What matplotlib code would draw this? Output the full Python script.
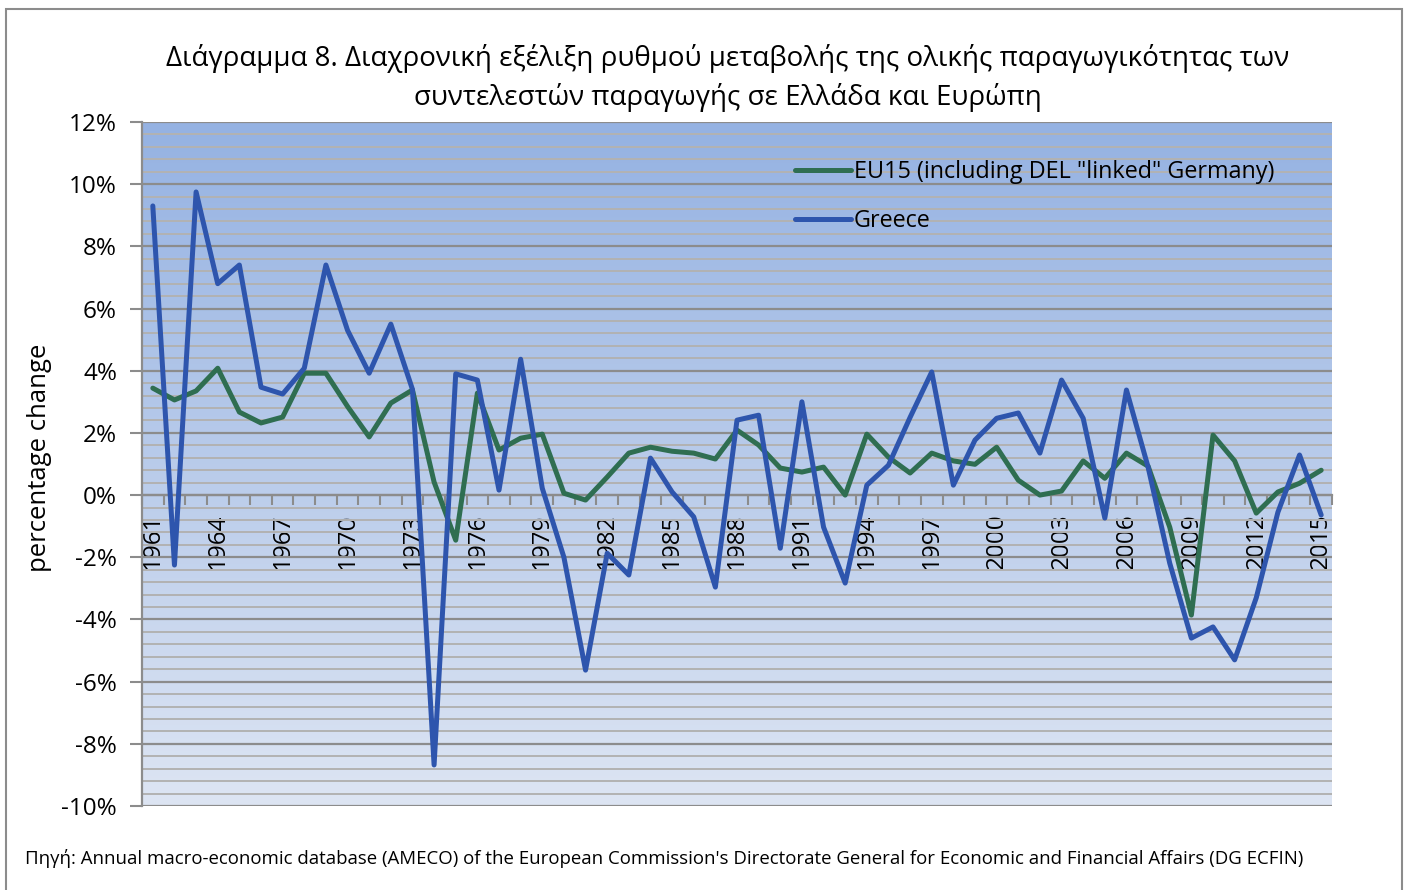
import matplotlib

matplotlib.use("Agg")
import matplotlib.pyplot as plt
import numpy as np
from matplotlib.colors import LinearSegmentedColormap
from matplotlib.patches import Rectangle
from matplotlib.ticker import FixedLocator, FuncFormatter, MultipleLocator

plt.rcParams["font.family"] = ["Open Sans", "DejaVu Sans"]

years = list(range(1961, 2016))
eu15 = [3.44, 3.06, 3.35, 4.08, 2.67, 2.32, 2.51, 3.92, 3.92, 2.85,
        1.87, 2.96, 3.38, 0.42, -1.45, 3.28, 1.45, 1.83, 1.96, 0.06,
        -0.16, 0.58, 1.35, 1.54, 1.41, 1.35, 1.16, 2.09, 1.61, 0.87,
        0.74, 0.90, 0.00, 1.96, 1.22, 0.71, 1.35, 1.10, 0.99, 1.54,
        0.48, 0.00, 0.13, 1.10, 0.54, 1.35, 0.93, -1.03, -3.86, 1.93,
        1.10, -0.58, 0.10, 0.38, 0.80]
greece = [9.30, -2.25, 9.75, 6.80, 7.40, 3.47, 3.25, 4.08, 7.40, 5.30,
          3.92, 5.50, 3.40, -8.68, 3.90, 3.70, 0.16, 4.37, 0.22, -2.00,
          -5.63, -1.87, -2.57, 1.19, 0.10, -0.70, -2.96, 2.41, 2.57, -1.71,
          3.00, -1.03, -2.83, 0.32, 0.96, 2.50, 3.96, 0.32, 1.77, 2.47,
          2.64, 1.35, 3.70, 2.47, -0.74, 3.38, 0.90, -2.19, -4.60, -4.24,
          -5.30, -3.30, -0.55, 1.29, -0.64]

title = ("Διάγραμμα 8. Διαχρονική εξέλιξη ρυθμού μεταβολής της ολικής παραγωγικότητας των\n"
         "συντελεστών παραγωγής σε Ελλάδα και Ευρώπη")
source = ("Πηγή: Annual macro-economic database (AMECO) of the European Commission's "
          "Directorate General for Economic and Financial Affairs (DG ECFIN)")

W, H = 1406, 890
fig = plt.figure(figsize=(W / 100, H / 100), dpi=100)
ax = fig.add_axes([142 / W, 1 - 806 / H, 1190 / W, 684 / H])

x = np.arange(len(years))
ax.set_xlim(-0.5, len(years) - 0.5)
ax.set_ylim(-10, 12)

# gradient fill of the plot area
cmap = LinearSegmentedColormap.from_list("bg", ["#DDE5F3", "#95B2E2"])
ax.imshow(np.linspace(0, 1, 256).reshape(-1, 1), cmap=cmap, origin="lower",
          extent=[-0.5, len(years) - 0.5, -10, 12], aspect="auto", zorder=0)

ax.yaxis.set_major_locator(MultipleLocator(2))
ax.yaxis.set_minor_locator(MultipleLocator(0.4))
ax.yaxis.set_major_formatter(FuncFormatter(lambda v, _: f"{v:.0f}%"))
ax.grid(which="major", axis="y", color="#8C8C8C", lw=1.6, zorder=1)
ax.grid(which="minor", axis="y", color="#B2B2B2", lw=1.4, zorder=1)
ax.tick_params(axis="y", which="major", length=9, width=1.5, color="#8C8C8C",
               labelsize=17.5, pad=9)
ax.tick_params(axis="y", which="minor", length=0)

ax.plot(x, eu15, color="#2F6E51", lw=3.6, solid_joinstyle="round",
        solid_capstyle="round", label='EU15 (including DEL "linked" Germany)', zorder=3)
ax.plot(x, greece, color="#2E55AD", lw=3.6, solid_joinstyle="round",
        solid_capstyle="round", label="Greece", zorder=4)

# category axis crossing at 0
for s in ["top", "right"]:
    ax.spines[s].set_visible(False)
ax.spines["bottom"].set_position(("data", 0))
ax.spines["bottom"].set_color("#8C8C8C")
ax.spines["bottom"].set_linewidth(1.6)
ax.spines["left"].set_color("#8C8C8C")
ax.spines["left"].set_linewidth(1.6)
ax.xaxis.set_major_locator(FixedLocator(x[::3]))
ax.xaxis.set_major_formatter(FuncFormatter(lambda v, _: str(years[int(round(v))])))
ax.xaxis.set_minor_locator(FixedLocator(np.arange(-0.5, len(years), 1.0)))
ax.tick_params(axis="x", which="major", length=0, labelsize=17.5, labelrotation=90, pad=13)
ax.tick_params(axis="x", which="minor", length=7, width=1.5, color="#8C8C8C")
for lab in ax.get_xticklabels():
    lab.set_verticalalignment("top")

leg = ax.legend(loc="upper left", bbox_to_anchor=(0.549, 0.944), frameon=False,
                fontsize=16.8, borderpad=0, handlelength=2.4, handletextpad=0.1,
                labelspacing=1.05, borderaxespad=0)

fig.text(728 / W, 1 - 78 / H, title, ha="center", va="center", fontsize=20,
         linespacing=1.42)
fig.text(40 / W, 1 - 458 / H, "percentage change", rotation=90, ha="center",
         va="center", fontsize=18.5)
fig.text(25 / W, 1 - 858 / H, source, ha="left", va="center", fontsize=13.4)

fig.add_artist(Rectangle((6 / W, -0.05), 1396 / W, 1.05 - 9 / H, transform=fig.transFigure,
                         fill=False, edgecolor="#8C8C8C", lw=1.5))

fig.savefig("out.png", dpi=100)
